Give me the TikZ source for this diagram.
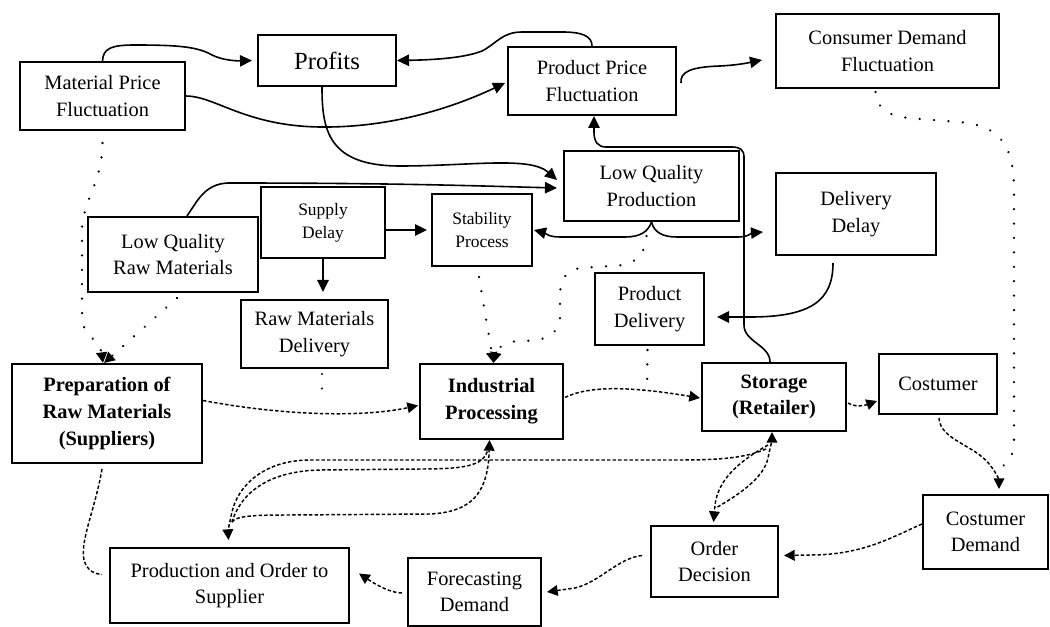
\documentclass[tikz,border=0pt]{standalone}
\usepackage{fontspec}
\setmainfont{Liberation Serif}
\usetikzlibrary{arrows.meta,calc}
\begin{document}
\begin{tikzpicture}[x=0.75pt,y=-0.75pt,
  box/.style={draw,line width=1.5pt,align=center,inner sep=1pt,font=\fontsize{15.3}{20}\selectfont},
  smalltext/.style={font=\fontsize{13.1}{17}\selectfont},
  boldtext/.style={font=\fontsize{15.3}{20}\selectfont\bfseries},
  solidarrow/.style={line width=1.2pt,-{Triangle[length=9pt,width=8.5pt]}},
  dashline/.style={line width=1.1pt,dash pattern=on 2.6pt off 1.6pt},
  dasharrow/.style={dashline,-{Triangle[length=8pt,width=8pt]}},
  dotline/.style={line width=1.9pt,line cap=round,dash pattern=on 0.01pt off 10.8pt},
  dotarrow/.style={dotline,-{Triangle[length=8pt,width=8pt]}},
]
\useasboundingbox (0,0) rectangle (1050,627);

% nodes
\node[box,minimum width=123.75pt,minimum height=51pt] (mpf) at (102.5,96) {Material Price\\Fluctuation};
\node[box,minimum width=103.5pt,minimum height=38.25pt,font=\fontsize{18.5}{22}\selectfont] (profits) at (327,60.5) {Profits};
\node[box,minimum width=126pt,minimum height=51pt] (ppf) at (592,81) {Product Price\\Fluctuation};
\node[box,minimum width=167.25pt,minimum height=55.5pt] (cdf) at (887.5,51) {Consumer Demand\\Fluctuation};
\node[box,minimum width=131.25pt,minimum height=52.5pt] (lqp) at (651.5,186) {Low Quality\\Production};
\node[box,smalltext,minimum width=93pt,minimum height=53.25pt] (sd) at (323,222.5) {Supply\\Delay};
\node[box,smalltext,minimum width=75pt,minimum height=54pt] (sp) at (482,230) {Stability\\Process};
\node[box,minimum width=120pt,minimum height=61.5pt] (dd) at (856,214) {Delivery\\Delay};
\node[box,minimum width=127.5pt,minimum height=56.25pt] (lqrm) at (173,254.5) {Low Quality\\Raw Materials};
\node[box,minimum width=110.25pt,minimum height=51pt] (rmd) at (314.5,334) {Raw Materials\\Delivery};
\node[box,minimum width=81.75pt,minimum height=54pt] (pd) at (649.5,309) {Product\\Delivery};
\node[box,boldtext,minimum width=142.5pt,minimum height=74.25pt] (prep) at (107,413.5) {Preparation of\\Raw Materials\\(Suppliers)};
\node[box,boldtext,minimum width=107.25pt,minimum height=56.25pt] (ip) at (491.5,401.5) {Industrial\\Processing};
\node[box,boldtext,minimum width=108pt,minimum height=51pt] (st) at (774,397) {Storage\\(Retailer)};
\node[box,minimum width=88.5pt,minimum height=45pt] (cu) at (938,384) {Costumer};
\node[box,minimum width=93.75pt,minimum height=55.5pt] (cd) at (985.5,532) {Costumer\\Demand};
\node[box,minimum width=95.25pt,minimum height=53.25pt] (od) at (714.5,561.5) {Order\\Decision};
\node[box,minimum width=99.75pt,minimum height=51pt] (fd) at (474.5,592) {Forecasting\\Demand};
\node[box,minimum width=179.25pt,minimum height=56.25pt] (po) at (229.5,585.5) {Production and Order to\\Supplier};

% solid connectors
\draw[solidarrow] (mpf.north) .. controls (103,48) and (112,45) .. (135,45) .. controls (180,45) and (198,47) .. (212,55) .. controls (222,60) and (235,61) .. ($(profits.west)+(-5,0)$);
\draw[solidarrow] (ppf.north) .. controls (592,36) and (582,32) .. (562,32) -- (522,32) .. controls (502,32) and (496,44) .. (482,51) .. controls (462,59) and (425,60) .. (profits.east);
\draw[solidarrow] ($(ppf.east)+(4,2)$) .. controls (680,72) and (690,67) .. (720,66) .. controls (740,65) and (752,62) .. ($(cdf.west)+(-13,9)$);
\draw[solidarrow] (mpf.east) .. controls (215,96) and (245,126) .. (320,127) .. controls (400,128) and (465,102) .. ($(ppf.west)+(-2,2)$);
\draw[solidarrow] ($(profits.south)+(-5,0)$) .. controls (322,130) and (328,166) .. (400,166) .. controls (470,166) and (530,156) .. ($(lqp.west)+(-6,-6)$);
\draw[solidarrow] ($(lqrm.north)+(14,0)$) .. controls (198,200) and (205,184) .. (228,183) .. controls (400,183) and (480,186) .. ($(lqp.west)+(-6,2)$);
\draw[solidarrow] (sd.east |- sp.west) -- ($(sp.west)+(-4,0)$);
\draw[solidarrow] (sd.south) -- ($(sd.south |- rmd.north)+(0,-7)$);
\draw[solidarrow] (lqp.south) .. controls (648,232) and (640,237) .. (625,237) -- (560,237) .. controls (548,237) and (545,233) .. ($(sp.east)+(1,0)$);
\draw[solidarrow] (lqp.south) .. controls (654,232) and (662,237) .. (677,237) -- (738,237) .. controls (748,237) and (752,233) .. ($(dd.west)+(-12,18)$);
\draw[solidarrow] ($(st.north)+(-4,0)$) .. controls (770,345) and (744,342) .. (744,325) -- (744,157) .. controls (744,150) and (740,147) .. (732,147) -- (606,147) .. controls (598,147) and (594,142) .. (594,132) -- ($(ppf.south)+(2,0)$);
\draw[solidarrow] ($(dd.south)+(-23,7)$) .. controls (833,300) and (812,317) .. (750,317) -- ($(pd.east)+(12,8)$);

% dashed connectors
\draw[dasharrow] ($(prep.east)+(0,-13)$) .. controls (280,415) and (360,418) .. ($(ip.west)+(-1,4)$);
\draw[dasharrow] ($(ip.east)+(1,-4)$) .. controls (592,384) and (640,388) .. ($(st.west)+(-1,1)$);
\draw[dasharrow] ($(st.east)+(1,6)$) .. controls (856,408) and (866,405) .. ($(cu.west)+(-1,17)$);
\draw[dasharrow] ($(cu.south)+(1,3)$) .. controls (940,440) and (975,445) .. (990,465) .. controls (997,474) and (999,480) .. ($(cd.north)+(13.5,-5)$);
\draw[dasharrow] ($(cd.west)+(0,-8)$) .. controls (890,538) and (862,555) .. (810,555) -- ($(od.east)+(5,-6)$);
\draw[dasharrow] ($(od.west)+(-8,-6)$) .. controls (618,558) and (600,582) .. (575,588) -- ($(fd.east)+(5,0)$);
\draw[dasharrow] ($(fd.west)+(-5,1)$) .. controls (390,593) and (375,584) .. ($(po.east)+(9,-12)$);
\draw[dashline] ($(prep.south)+(-5,5)$) .. controls (95,510) and (80,540) .. (84,560) .. controls (87,571) and (95,574) .. ($(po.west)+(-7,-11)$);

\coordinate (merge) at (232,522);
\draw[dasharrow] ($(st.south)+(-8,17)$) .. controls (745,458) and (720,460) .. (680,460) -- (310,460) .. controls (265,460) and (238,485) .. (232,512) .. controls (229,525) and (228,532) .. ($(po.north)+(-1,-7)$);
\draw[dashline] ($(ip.south)+(-3,6)$) .. controls (486,465) and (470,469) .. (420,469) -- (320,470) .. controls (272,471) and (242,490) .. (merge);
\draw[dasharrow] (merge) .. controls (236,516) and (252,515) .. (290,515) -- (430,514) .. controls (470,512) and (488,495) .. ($(ip.south)+(-2,0)$);
\draw[dasharrow] ($(od.north)+(3,-18)$) .. controls (738,495) and (764,478) .. (768,458) .. controls (770,448) and (772,440) .. ($(st.south)+(-2,0)$);
\draw[dasharrow] ($(st.south)+(-6,13)$) .. controls (738,462) and (718,480) .. (715,505) -- ($(od.north)+(-1,-3)$);

% dotted connectors
\draw[dotarrow] ($(mpf.south)+(0,12)$) .. controls (102,185) and (82,200) .. (82,232) -- (82,318) .. controls (83,336) and (100,340) .. ($(prep.north)+(-4,0)$);
\draw[dotarrow] ($(lqrm.south)+(4,5)$) -- ($(prep.north)+(-3,0)$);
\draw[dotarrow] ($(sp.south)+(-3,10)$) -- ($(ip.north)+(2,0)$);
\draw[dotarrow] ($(lqp.south)+(-5,14)$) .. controls (645,255) and (636,266) .. (610,266) -- (580,268) .. controls (566,270) and (560,280) .. (560,296) -- (560,318) .. controls (558,336) and (545,341) .. (520,341) .. controls (506,341) and (497,348) .. ($(ip.north)+(2,0)$);
\coordinate (pdend) at (647,392);
\draw[dotline] ($(pd.south)+(-2,4)$) -- (pdend);
\coordinate (rmdend) at (322,390);
\draw[dotline] ($(rmd.south)+(7.5,5)$) -- (rmdend);
\draw[dotline] ($(cdf.south)+(-12,3)$) .. controls (878,112) and (890,117) .. (920,119) -- (960,122) .. controls (1000,126) and (1014,145) .. (1014,190) -- (1014,442) .. controls (1014,458) and (1006,464) .. ($(cd.north)+(16,-27)$);
\end{tikzpicture}
\end{document}
